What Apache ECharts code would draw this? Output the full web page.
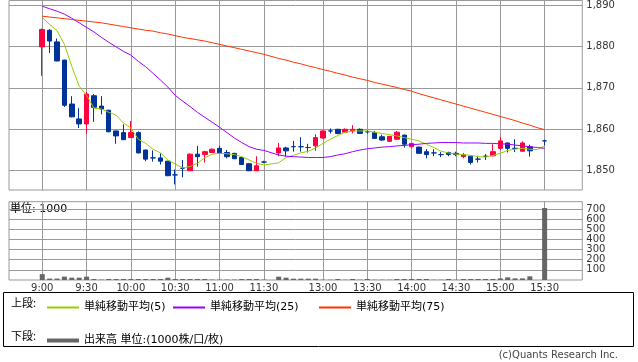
<!DOCTYPE html>
<html><head><meta charset="utf-8">
<script src="https://cdn.jsdelivr.net/npm/echarts@6/dist/echarts.min.js"></script>
<style>html,body{margin:0;padding:0;background:#fff}#c{width:638px;height:362px}</style>
</head><body><div id="c"></div>
<script>
const times = ['9:00','9:05','9:10','9:15','9:20','9:25','9:30','9:35','9:40','9:45','9:50','9:55',
'10:00','10:05','10:10','10:15','10:20','10:25','10:30','10:35','10:40','10:45','10:50','10:55',
'11:00','11:05','11:10','11:15','11:20','11:25','11:30','',
'12:30','12:35','12:40','12:45','12:50','12:55',
'13:00','13:05','13:10','13:15','13:20','13:25','13:30','13:35','13:40','13:45','13:50','13:55',
'14:00','14:05','14:10','14:15','14:20','14:25','14:30','14:35','14:40','14:45','14:50','14:55',
'15:00','15:05','15:10','15:15','15:20','15:25','15:30'];
const tickLabels = ['9:00','9:30','10:00','10:30','11:00','11:30','13:00','13:30','14:00','14:30','15:00','15:30'];
const priceTicks = [1850,1860,1870,1880,1890];
const volumeTicks = [100,200,300,400,500,600,700];

const opens = [1879.9,1883.9,1881.1,1876.7,1866.1,1862.5,1861.3,1868.1,1865.6,1864.6,1859.6,1859.2,
1858.0,1859.2,1855.0,1853.1,1853.1,1852.3,1849.0,1850.6,1850.0,1854.0,1853.9,1854.4,
1855.4,1854.4,1854.2,1853.2,1851.7,1850.0,1852.1,null,
1854.3,1855.5,1855.8,1855.8,1855.6,1856.0,
1857.9,1859.6,1860.0,1859.3,1859.6,1860.0,1859.4,1859.2,1858.2,1857.1,1857.6,1858.6,
1855.8,1855.7,1854.6,1854.3,1853.9,1854.4,1854.2,1853.4,1853.5,1852.8,1853.5,1853.6,
1855.4,1856.7,1855.4,1854.7,1855.8,null,1857.2];
const closes = [1884.1,1881.3,1876.5,1865.8,1863.0,1861.3,1868.5,1865.3,1864.9,1859.4,1858.4,1857.5,
1859.2,1854.3,1852.8,1853.1,1852.3,1848.8,1849.0,1850.6,1854.0,1853.4,1854.6,1855.2,
1854.3,1853.4,1852.9,1851.5,1850.0,1851.2,1852.1,null,
1855.5,1854.8,1855.8,1855.8,1855.6,1858.0,
1859.6,1859.6,1859.0,1860.0,1860.0,1859.0,1859.4,1857.8,1857.4,1858.3,1859.3,1856.4,
1856.6,1854.2,1853.9,1854.3,1853.9,1853.9,1853.9,1853.9,1852.0,1852.8,1853.5,1854.6,
1857.2,1855.4,1855.4,1856.7,1854.8,null,1857.2];
const lows = [1872.9,1878.4,1876.4,1865.4,1862.9,1860.3,1858.9,1861.8,1863.6,1859.3,1856.5,1857.4,
1857.9,1854.2,1852.3,1852.2,1851.5,1848.7,1846.7,1848.4,1849.9,1851.0,1852.0,1854.3,
1854.2,1853.0,1852.8,1851.4,1849.9,1849.9,1851.8,null,
1853.5,1853.5,1854.6,1854.6,1854.4,1854.8,
1857.8,1859.0,1858.8,1859.2,1859.0,1858.9,1859.0,1857.7,1857.2,1857.0,1857.5,1855.6,
1855.6,1854.1,1853.0,1853.5,1853.3,1853.5,1853.5,1853.0,1851.5,1852.0,1852.6,1853.5,
1855.0,1854.4,1854.5,1854.6,1853.4,null,1856.0];
const highs = [1884.3,1884.2,1881.9,1876.8,1868.0,1865.1,1869.0,1868.5,1868.0,1864.7,1859.7,1861.2,
1862.0,1859.5,1855.1,1854.9,1854.2,1852.4,1850.3,1852.6,1854.2,1856.0,1854.8,1855.4,
1856.0,1855.0,1854.3,1853.3,1851.8,1853.5,1852.4,null,
1856.7,1855.8,1857.2,1858.1,1856.5,1858.8,
1859.7,1860.2,1860.1,1860.2,1861.0,1860.2,1859.8,1859.6,1858.7,1858.4,1859.6,1858.7,
1856.7,1855.8,1855.2,1855.2,1854.5,1854.6,1854.6,1854.3,1853.6,1853.6,1854.0,1856.4,
1858.2,1856.8,1857.6,1857.1,1856.3,null,1857.5];

const ma5 = [1887.0,1885.3,1883.8,1880.5,1875.2,1870.4,1868.2,1865.1,1864.9,1864.1,1863.4,1861.5,
1860.3,1857.6,1856.6,1855.2,1854.3,1852.6,1851.6,1850.7,1851.0,1851.8,1853.1,1854.0,
1854.2,1854.1,1853.9,1853.4,1852.6,1851.8,1851.4,null,
1851.9,1853.2,1853.7,1854.3,1854.7,1855.5,
1856.6,1857.6,1858.5,1859.3,1859.6,1859.6,1859.6,1859.3,1859.0,1858.7,1858.4,1858.0,
1857.6,1857.2,1856.4,1855.6,1854.7,1854.3,1854.0,1853.9,1853.7,1853.4,1853.3,1853.7,
1854.2,1854.9,1855.2,1855.4,1855.2,1855.1,1856.0];
const ma25 = [1889.7,1889.1,1888.5,1887.8,1886.8,1885.7,1884.6,1883.5,1882.2,1881.0,1879.9,1878.8,
1877.9,1876.4,1875.1,1873.5,1871.9,1870.2,1868.2,1866.8,1865.5,1864.1,1862.9,1861.7,
1860.5,1859.2,1857.9,1856.8,1855.8,1855.2,1854.9,null,
1853.8,1853.5,1853.4,1853.3,1853.2,1853.2,
1853.2,1853.4,1853.8,1854.1,1854.6,1855.0,1855.3,1855.5,1855.7,1855.8,1856.0,1856.1,
1856.3,1856.4,1856.6,1856.7,1856.8,1856.8,1856.8,1856.7,1856.7,1856.7,1856.6,1856.6,
1856.5,1856.4,1856.2,1856.0,1855.8,1855.6,1855.4];
const ma75 = [1887.3,1887.1,1886.9,1886.7,1886.5,1886.3,1886.1,1885.9,1885.7,1885.4,1885.1,1884.8,
1884.5,1884.2,1883.9,1883.7,1883.3,1883.0,1882.6,1882.2,1881.9,1881.6,1881.3,1880.9,
1880.5,1880.1,1879.7,1879.3,1878.9,1878.5,1878.1,null,
1877.1,1876.7,1876.2,1875.8,1875.3,1874.9,
1874.4,1874.0,1873.5,1873.1,1872.6,1872.2,1871.8,1871.3,1870.9,1870.5,1870.1,1869.6,
1869.2,1868.6,1868.1,1867.6,1867.1,1866.6,1866.1,1865.6,1865.1,1864.6,1864.1,1863.6,
1863.1,1862.6,1862.1,1861.5,1861.0,1860.4,1859.9];
const volume = [58,14,14,33,23,23,33,10,4,10,10,10,
10,10,10,10,10,23,10,10,10,10,10,4,
4,4,4,10,10,10,4,null,
33,23,13,13,13,13,
3,3,10,3,10,3,10,3,3,3,10,10,
10,10,10,3,3,10,3,10,10,10,10,10,
16,26,16,16,36,0,710];

const tickPos = tickLabels.map(t => times.indexOf(t));
const candleData = [];
times.forEach((t, i) => { if (opens[i] != null) candleData.push([i, opens[i], closes[i], lows[i], highs[i]]); });
const lineData = arr => arr.map((v, i) => [i, v]);
const volData = [];
volume.forEach((v, i) => { if (v != null) volData.push([i, v]); });

const FONT = "'DejaVu Sans', 'Noto Sans CJK JP', sans-serif";
const GRID_C = '#999';
const chart = echarts.init(document.getElementById('c'), null, {renderer: 'canvas'});
const xCommon = {type: 'value', min: -4.5, max: 73.1,
  axisLine: {show: false}, axisTick: {show: false, customValues: tickPos},
  splitLine: {show: true, lineStyle: {color: GRID_C, width: 1}}};
const legendText = {fontSize: 11, color: '#000', fontFamily: FONT};
chart.setOption({
  animation: false,
  textStyle: {fontFamily: FONT},
  grid: [
    {left: 9, top: 0, width: 573.3, height: 190, show: true, borderColor: GRID_C, borderWidth: 1},
    {left: 9, top: 201.7, width: 573.3, height: 78.3, show: true, borderColor: GRID_C, borderWidth: 1}
  ],
  xAxis: [
    Object.assign({gridIndex: 0, axisLabel: {show: false, customValues: tickPos}}, xCommon),
    Object.assign({gridIndex: 1, axisLabel: {show: true, customValues: tickPos, formatter: v => times[v],
      fontSize: 10, color: '#333', margin: 3}}, xCommon)
  ],
  yAxis: [
    {gridIndex: 0, type: 'value', position: 'right', min: 1845.35, max: 1891.08,
     axisLine: {show: true, lineStyle: {color: GRID_C}},
     axisTick: {show: true, length: 6, customValues: priceTicks, lineStyle: {color: GRID_C}},
     axisLabel: {customValues: priceTicks, fontSize: 10, color: '#333', margin: 4,
       formatter: v => String(v).replace(/\B(?=(\d{3})+(?!\d))/g, ',')},
     splitLine: {show: true, lineStyle: {color: GRID_C}}},
    {gridIndex: 1, type: 'value', position: 'right', min: 0, max: 772,
     axisLine: {show: true, lineStyle: {color: GRID_C}},
     axisTick: {show: true, length: 6, customValues: volumeTicks, lineStyle: {color: GRID_C}},
     axisLabel: {customValues: volumeTicks, fontSize: 10, color: '#333', margin: 4},
     splitLine: {show: true, lineStyle: {color: GRID_C}}}
  ],
  legend: [
    {data: ['単純移動平均(5)'], left: 42, top: 297, icon: 'rect', itemWidth: 32, itemHeight: 2,
     selectedMode: false, textStyle: legendText},
    {data: ['単純移動平均(25)'], left: 168, top: 297, icon: 'rect', itemWidth: 32, itemHeight: 2,
     selectedMode: false, textStyle: legendText},
    {data: ['単純移動平均(75)'], left: 314, top: 297, icon: 'rect', itemWidth: 32, itemHeight: 2,
     selectedMode: false, textStyle: legendText},
    {data: ['出来高 単位:(1000株/口/枚)'], left: 42, top: 330, icon: 'rect', itemWidth: 32, itemHeight: 4,
     selectedMode: false, textStyle: legendText}
  ],
  graphic: [
    {type: 'rect', shape: {x: 3.5, y: 292.5, width: 630, height: 54}, style: {fill: 'none', stroke: '#000', lineWidth: 1}, silent: true},
    {type: 'text', left: 11, top: 297, style: {text: '上段:', font: "11px 'Noto Sans CJK JP'", fill: '#000'}},
    {type: 'text', left: 11, top: 330, style: {text: '下段:', font: "11px 'Noto Sans CJK JP'", fill: '#000'}},
    {type: 'text', left: 10, top: 204, style: {text: '単位: 1000', font: "11px 'DejaVu Sans','Noto Sans CJK JP'", fill: '#000'}},
    {type: 'text', right: 20, top: 350, style: {text: '(c)Quants Research Inc.', font: "10px 'DejaVu Sans'", fill: '#444'}}
  ],
  series: [
    {type: 'candlestick', name: '株価', xAxisIndex: 0, yAxisIndex: 0, data: candleData, barWidth: 5,
     itemStyle: {color: '#ff0040', color0: '#003399', borderColor: '#ff0040', borderColor0: '#003399',
       borderColorDoji: '#003399', borderWidth: 1}},
    {type: 'line', name: '単純移動平均(5)', xAxisIndex: 0, yAxisIndex: 0, data: lineData(ma5), symbol: 'none',
     connectNulls: true, color: '#99cc00', itemStyle: {color: '#99cc00'}, lineStyle: {color: '#99cc00', width: 1}},
    {type: 'line', name: '単純移動平均(25)', xAxisIndex: 0, yAxisIndex: 0, data: lineData(ma25), symbol: 'none',
     connectNulls: true, color: '#9900ff', itemStyle: {color: '#9900ff'}, lineStyle: {color: '#9900ff', width: 1}},
    {type: 'line', name: '単純移動平均(75)', xAxisIndex: 0, yAxisIndex: 0, data: lineData(ma75), symbol: 'none',
     connectNulls: true, color: '#ff3300', itemStyle: {color: '#ff3300'}, lineStyle: {color: '#ff3300', width: 1}},
    {type: 'bar', name: '出来高 単位:(1000株/口/枚)', xAxisIndex: 1, yAxisIndex: 1, data: volData, barWidth: 5,
     color: '#666', itemStyle: {color: '#666'}}
  ]
});
</script></body></html>
